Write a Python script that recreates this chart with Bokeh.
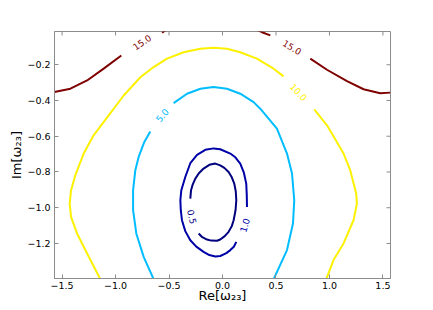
import math
from bokeh.plotting import figure
from bokeh.models import Range1d, FixedTicker, ColumnDataSource
from bokeh.embed import file_html
from bokeh.resources import INLINE
from bokeh.core.properties import value

# ---- data -------------------------------------------------------------
x_ticks = [-1.5, -1.0, -0.5, 0.0, 0.5, 1.0, 1.5]
x_tick_labels = ["\u22121.5", "\u22121.0", "\u22120.5", "0.0", "0.5", "1.0", "1.5"]
y_ticks = [-1.2, -1.0, -0.8, -0.6, -0.4, -0.2]
y_tick_labels = ["\u22121.2", "\u22121.0", "\u22120.8", "\u22120.6", "\u22120.4", "\u22120.2"]

levels = [0.5, 1.0, 5.0, 10.0, 15.0]
level_colors = ["#00007f", "#0000a8", "#00bdff", "#fbf100", "#7f0000"]

# contour level 0.5 (inner navy loop, gap at label)
c05_x = [[-0.223, -0.189, -0.145, -0.105, -0.051, -0.021, 0.021, 0.057, 0.087, 0.104,
          0.122, 0.129, 0.124, 0.110, 0.087, 0.057, 0.017, -0.021, -0.067, -0.123,
          -0.177, -0.221, -0.254, -0.278, -0.294, -0.301]]
c05_y = [[-1.144, -1.165, -1.178, -1.184, -1.185, -1.178, -1.159, -1.135, -1.103, -1.070,
          -1.014, -0.958, -0.908, -0.865, -0.830, -0.800, -0.777, -0.763, -0.753, -0.760,
          -0.781, -0.807, -0.837, -0.869, -0.902, -0.949]]

# contour level 1.0 (outer navy loop, gap at label)
c10_x = [[0.229, 0.227, 0.222, 0.199, 0.166, 0.120, 0.073, -0.021, -0.083, -0.161,
          -0.238, -0.301, -0.348, -0.385, -0.394, -0.390, -0.379, -0.348, -0.301, -0.245,
          -0.177, -0.123, -0.067, -0.021, 0.036, 0.073, 0.106, 0.129]]
c10_y = [[-0.996, -0.930, -0.865, -0.802, -0.753, -0.718, -0.697, -0.673, -0.668, -0.676,
          -0.704, -0.751, -0.828, -0.902, -0.958, -1.014, -1.070, -1.131, -1.182, -1.218,
          -1.247, -1.265, -1.273, -1.270, -1.254, -1.237, -1.218, -1.191]]

# contour level 5.0 (cyan)
c50_x = [[-0.644, -0.737, -0.806, -0.836, -0.836, -0.815, -0.784, -0.731, -0.675],
         [-0.457, -0.332, -0.207, -0.083, 0.042, 0.166, 0.291, 0.353, 0.509, 0.603,
          0.650, 0.671, 0.659, 0.603, 0.478]]
c50_y = [[-1.400, -1.275, -1.144, -1.014, -0.902, -0.790, -0.716, -0.632, -0.573],
         [-0.415, -0.362, -0.334, -0.325, -0.334, -0.362, -0.409, -0.446, -0.558, -0.697,
          -0.809, -0.958, -1.088, -1.237, -1.400]]

# contour level 10.0 (yellow)
c100_x = [[-1.142, -1.266, -1.360, -1.416, -1.429, -1.416, -1.376, -1.298, -1.205, -1.064,
           -0.924, -0.768, -0.644, -0.519, -0.364, -0.207, -0.083, 0.042, 0.166, 0.322,
           0.478, 0.571],
          [0.858, 0.977, 1.132, 1.194, 1.250, 1.257, 1.225, 1.132, 1.038, 0.970]]
c100_y = [[-1.400, -1.256, -1.144, -1.051, -0.977, -0.902, -0.818, -0.697, -0.595, -0.483,
           -0.372, -0.270, -0.213, -0.166, -0.130, -0.111, -0.105, -0.111, -0.130, -0.166,
           -0.222, -0.265],
          [-0.450, -0.539, -0.697, -0.790, -0.921, -0.977, -1.070, -1.200, -1.293, -1.400]]

# contour level 15.0 (dark red)
c150_x = [[-1.572, -1.422, -1.266, -1.111, -0.946],
          [-0.565, -0.535, -0.507],
          [0.316, 0.369, 0.447],
          [0.821, 0.977, 1.164, 1.319, 1.475, 1.568]]
c150_y = [[-0.353, -0.334, -0.288, -0.222, -0.148],
          [-0.021, -0.008, 0.003],
          [-0.003, -0.018, -0.036],
          [-0.166, -0.228, -0.292, -0.337, -0.359, -0.356]]

# inline contour labels
lab_x = [-0.752, 0.650, 0.711, -0.565, 0.208, -0.285]
lab_y = [-0.074, -0.102, -0.353, -0.483, -1.098, -1.051]
lab_text = ["15.0", "15.0", "10.0", "5.0", "1.0", "0.5"]
lab_angle = [0.61, -0.54, -0.82, 0.87, 1.28, -1.35]
lab_color = ["#7f0000", "#7f0000", "#fbf100", "#00bdff", "#0000a8", "#00007f"]

x_title = "Re[\u03c9\u2082\u2083]"
y_title = "Im[\u03c9\u2082\u2083]"

# ---- figure -----------------------------------------------------------
FONT = "DejaVu Sans"
GRAY = "#8c8c8c"
X0, X1 = -1.5708, 1.5708
Y0, Y1 = -1.396, -0.014

p = figure(width=433, height=310,
           x_range=Range1d(X0, X1), y_range=Range1d(Y0, Y1),
           output_backend="svg", toolbar_location=None,
           min_border_left=54, min_border_right=43,
           min_border_top=31, min_border_bottom=32)
p.xgrid.visible = False
p.ygrid.visible = False
p.outline_line_color = GRAY
p.background_fill_color = "white"
p.border_fill_color = "white"


def style_axis(ax, ticks, labels):
    ax.ticker = FixedTicker(ticks=ticks)
    ax.major_label_overrides = {t: l for t, l in zip(ticks, labels)}
    ax.major_tick_in = 4
    ax.major_tick_out = 0
    ax.minor_tick_in = 0
    ax.minor_tick_out = 0
    ax.axis_line_color = GRAY
    ax.major_tick_line_color = GRAY
    ax.major_label_text_font = FONT
    ax.major_label_text_color = "black"
    ax.major_label_text_font_size = "9.5px"
    ax.axis_label_text_font = FONT
    ax.axis_label_text_font_style = "normal"
    ax.axis_label_text_font_size = "13px"
    ax.axis_label_text_color = "black"


style_axis(p.xaxis[0], x_ticks, x_tick_labels)
style_axis(p.yaxis[0], y_ticks, y_tick_labels)
p.xaxis[0].major_label_standoff = 3
p.yaxis[0].major_label_standoff = 4
p.xaxis[0].axis_label = x_title
p.yaxis[0].axis_label = y_title
p.xaxis[0].axis_label_standoff = -4
p.yaxis[0].axis_label_standoff = 0

# inward ticks on the top and right edges (half of each dash is clipped by the frame)
p.scatter(x=x_ticks, y=[Y1] * len(x_ticks), marker="dash", size=8, angle=math.pi / 2,
          line_color=GRAY, line_width=1)
p.scatter(x=[X1] * len(y_ticks), y=y_ticks, marker="dash", size=8,
          line_color=GRAY, line_width=1)

# contours
for xs, ys, col in [(c05_x, c05_y, level_colors[0]),
                    (c10_x, c10_y, level_colors[1]),
                    (c50_x, c50_y, level_colors[2]),
                    (c100_x, c100_y, level_colors[3]),
                    (c150_x, c150_y, level_colors[4])]:
    p.multi_line(xs=xs, ys=ys, line_color=col, line_width=2)

src = ColumnDataSource(dict(x=lab_x, y=lab_y, text=lab_text, angle=lab_angle, color=lab_color))
p.text(x="x", y="y", text="text", angle="angle", text_color="color", source=src,
       text_font=value(FONT), text_font_size="9px",
       text_align="center", text_baseline="middle")

open("out.html", "w").write(file_html(p, INLINE))
